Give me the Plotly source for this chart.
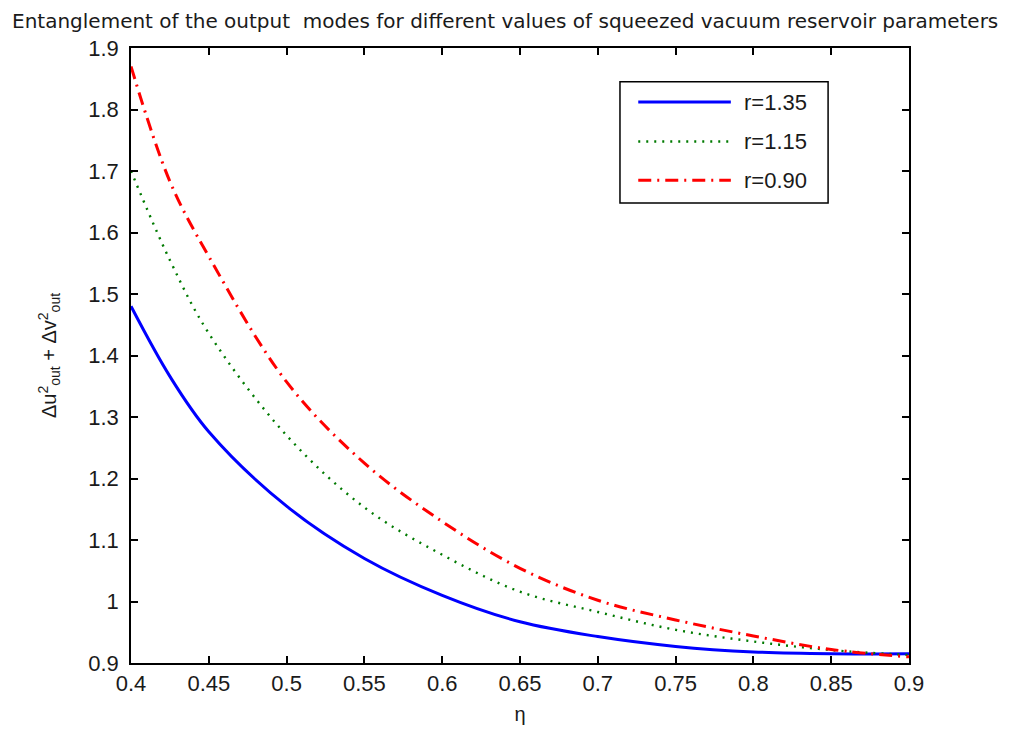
import plotly.graph_objects as go

eta = [0.4, 0.425, 0.45, 0.5, 0.55, 0.6, 0.65, 0.7, 0.75, 0.8, 0.85, 0.9]
r135 = [1.480, 1.366, 1.276, 1.155, 1.070, 1.010, 0.967, 0.943, 0.927, 0.918, 0.915, 0.915]
r115 = [1.700, 1.555, 1.436, 1.270, 1.153, 1.076, 1.016, 0.983, 0.954, 0.935, 0.921, 0.913]
r090 = [1.870, 1.683, 1.561, 1.357, 1.225, 1.130, 1.054, 1.002, 0.970, 0.944, 0.922, 0.910]
names = ["r=1.35", "r=1.15", "r=0.90"]
xticks = [0.4, 0.45, 0.5, 0.55, 0.6, 0.65, 0.7, 0.75, 0.8, 0.85, 0.9]
yticks = [0.9, 1.0, 1.1, 1.2, 1.3, 1.4, 1.5, 1.6, 1.7, 1.8, 1.9]
xlabels = ["0.4", "0.45", "0.5", "0.55", "0.6", "0.65", "0.7", "0.75", "0.8", "0.85", "0.9"]
ylabels = ["0.9", "1", "1.1", "1.2", "1.3", "1.4", "1.5", "1.6", "1.7", "1.8", "1.9"]

FONT = "Liberation Sans, Arial, sans-serif"
TFONT = "DejaVu Sans, Liberation Sans, sans-serif"
TXT = "#1a1a1a"

styles = [
    dict(color="#0000ff", width=3, dash="solid"),
    dict(color="#007a00", width=2.4, dash="2px,6px"),
    dict(color="#ff0000", width=3, dash="13px,6px,2px,6px"),
]
series = [r135, r115, r090]

fig = go.Figure()
for nm, ys, st in zip(names, series, styles):
    fig.add_trace(go.Scatter(x=eta, y=ys, mode="lines", name=nm, showlegend=False,
                             line=dict(color=st["color"], width=st["width"],
                                       dash=st["dash"], shape="spline")))

axis_common = dict(showline=True, linecolor="black", linewidth=1.5, mirror="ticks",
                   ticks="inside", ticklen=7, tickcolor="black", tickwidth=1.5,
                   showgrid=False, zeroline=False,
                   tickfont=dict(size=22, color=TXT, family=FONT))

# custom MATLAB-like legend (paper coordinates of the plot area)
lx0, lx1, ly0, ly1 = 0.6285, 0.896, 0.748, 0.945
row_y = [0.912, 0.848, 0.785]
shapes = [dict(type="rect", xref="paper", yref="paper", x0=lx0, x1=lx1, y0=ly0, y1=ly1,
               line=dict(color="black", width=1.5), fillcolor="white", layer="above")]
annotations = []
for nm, st, yy in zip(names, styles, row_y):
    shapes.append(dict(type="line", xref="paper", yref="paper", x0=0.652, x1=0.771,
                       y0=yy, y1=yy, layer="above",
                       line=dict(color=st["color"], width=st["width"], dash=st["dash"])))
    annotations.append(dict(xref="paper", yref="paper", x=0.785, y=yy, xanchor="left",
                            yanchor="middle", text=nm, showarrow=False,
                            font=dict(size=22, family=FONT, color=TXT)))

fig.update_layout(
    width=1011, height=733,
    margin=dict(l=131, r=102, t=48, b=70),
    paper_bgcolor="white", plot_bgcolor="white",
    font=dict(family=FONT, color=TXT),
    title=dict(text="Entanglement of the output  modes for different values of squeezed vacuum reservoir parameters",
               x=12 / 1011, xanchor="left", y=0.972, yanchor="middle",
               font=dict(size=20, family=TFONT, color=TXT)),
    xaxis=dict(range=[0.4, 0.9], tickvals=xticks, ticktext=xlabels,
               title=dict(text="η", font=dict(size=20), standoff=12), **axis_common),
    yaxis=dict(range=[0.9, 1.9], tickvals=yticks, ticktext=ylabels, ticklabelstandoff=6,
               title=dict(text="Δu<sup>2</sup><sub>out</sub> + Δv<sup>2</sup><sub>out</sub>",
                          font=dict(size=20), standoff=26), **axis_common),
    shapes=shapes,
    annotations=annotations,
    showlegend=False,
)

fig.write_html("out.html")
